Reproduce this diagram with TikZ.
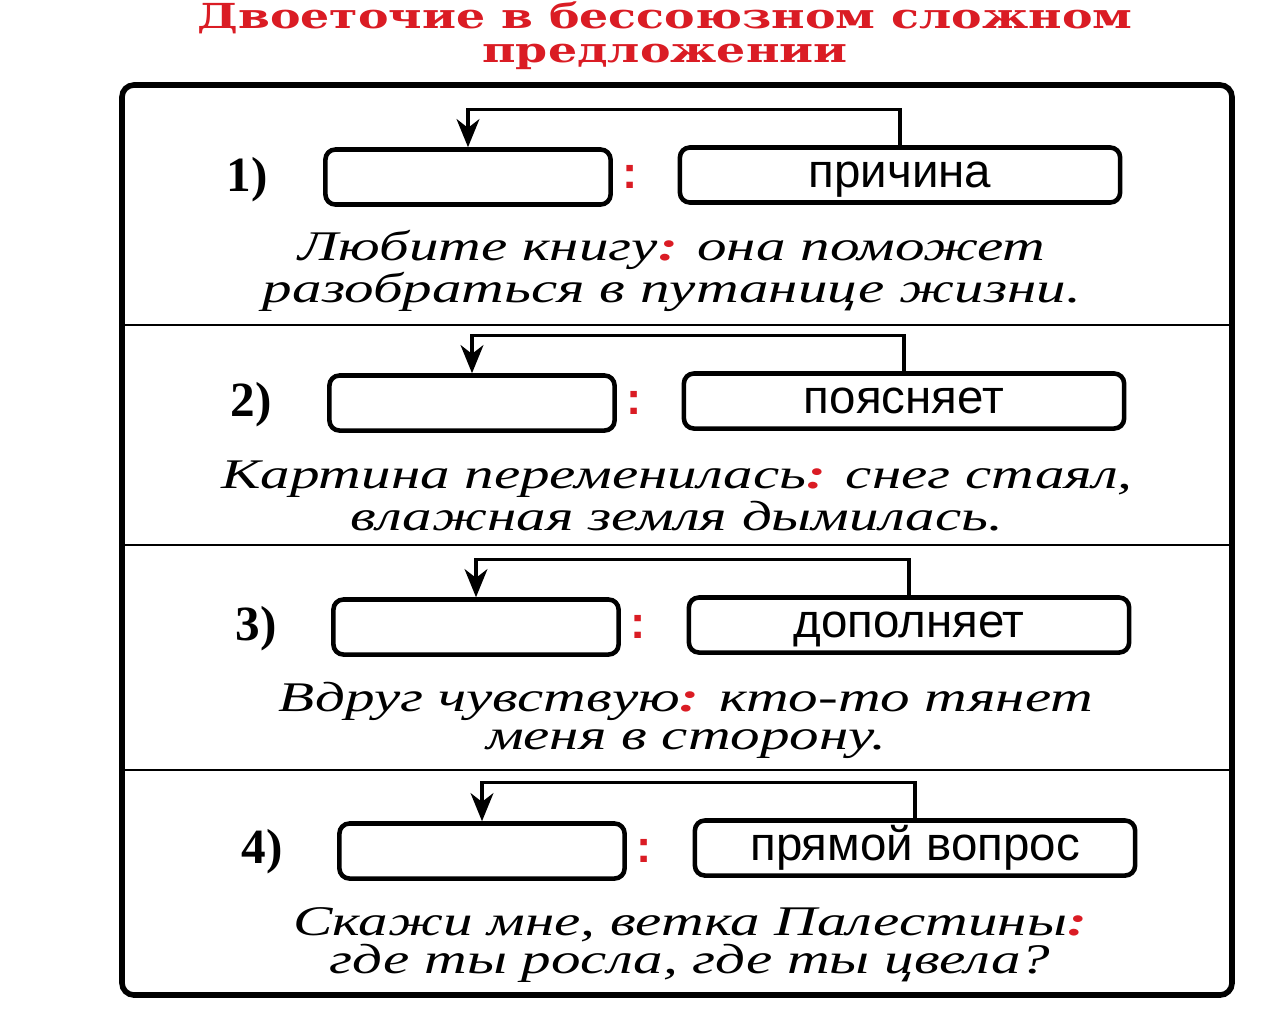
\documentclass[tikz,border=0pt]{standalone}
\usepackage{fontspec}
\setmainfont{Liberation Serif}
\newfontfamily\titlefont[FakeStretch=1.33]{DejaVu Serif}
\newfontfamily\boxfont{Liberation Sans}
\newfontfamily\samplefont[FakeStretch=1.4]{Liberation Serif}
\usetikzlibrary{positioning, arrows.meta}

\definecolor{schemered}{RGB}{218,28,36}
\newcommand{\redcolon}{\textcolor{schemered}{\textbf{:}}}

\begin{document}
\begin{tikzpicture}[
    x=0.01cm, y=-0.01cm,
    >={Stealth[length=8pt, width=6.5pt, inset=2.5pt]},
    title/.style={align=center, text=schemered,
        font=\titlefont\bfseries\fontsize{9.8}{9.6}\selectfont},
    slot/.style={draw, line width=1.3pt, rounded corners=0.1cm,
        minimum width=2.85cm, minimum height=0.55cm, inner sep=0pt},
    kind/.style={slot, minimum width=4.4cm, text height=0.3cm, text depth=0.05cm,
        font=\boxfont\fontsize{13.5}{14}\selectfont},
    num/.style={font=\bfseries\fontsize{14}{14}\selectfont},
    colon/.style={text=schemered, font=\boxfont\bfseries\fontsize{13}{13}\selectfont},
    sample/.style={align=center,
        font=\samplefont\itshape\fontsize{12}{10.8}\selectfont},
    link/.style={->, line width=0.9pt}
]
\useasboundingbox (0,0) rectangle (1280,1008);

% title
\node[title] (title) at (665,36) {Двоеточие в бессоюзном сложном\\предложении};

% frame and dividers
\draw[line width=1.6pt, rounded corners=0.12cm] (122,85) rectangle (1232,995);
\draw[line width=0.7pt] (122,325) -- (1232,325);
\draw[line width=0.7pt] (122,545) -- (1232,545);
\draw[line width=0.7pt] (122,770) -- (1232,770);

% row 1
\node[num] (n1) at (247,180) {1)};
\node[slot] (slot1) at (468,177) {};
\node[colon] (c1) at (630,177) {:};
\node[kind] (kind1) at (900,175) {причина};
\draw[link] (kind1.north) -- ++(0,-36) -| (slot1.north);
\node[sample] (ex1) at (672,271)
{Любите книгу\redcolon{} она поможет\\разобраться в путанице жизни.};

% row 2
\node[num] (n2) at (251,405) {2)};
\node[slot] (slot2) at (472,403) {};
\node[colon] (c2) at (634,403) {:};
\node[kind] (kind2) at (904,401) {поясняет};
\draw[link] (kind2.north) -- ++(0,-36) -| (slot2.north);
\node[sample] (ex2) at (677,496)
{Картина переменилась\redcolon{} снег стаял,\\влажная земля дымилась.};

% row 3
\node[num] (n3) at (256,629) {3)};
\node[slot] (slot3) at (476,627) {};
\node[colon] (c3) at (638,627) {:};
\node[kind] (kind3) at (909,625) {дополняет};
\draw[link] (kind3.north) -- ++(0,-36) -| (slot3.north);
\node[sample] (ex3) at (686,720)
{Вдруг чувствую\redcolon{} кто-то тянет\\меня в сторону.};

% row 4
\node[num] (n4) at (262,852) {4)};
\node[slot] (slot4) at (482,851) {};
\node[colon] (c4) at (644,851) {:};
\node[kind] (kind4) at (915,848) {прямой вопрос};
\draw[link] (kind4.north) -- ++(0,-36) -| (slot4.north);
\node[sample] (ex4) at (690,945)
{Скажи мне, ветка Палестины\redcolon\\где ты росла, где ты цвела?};

\end{tikzpicture}
\end{document}
